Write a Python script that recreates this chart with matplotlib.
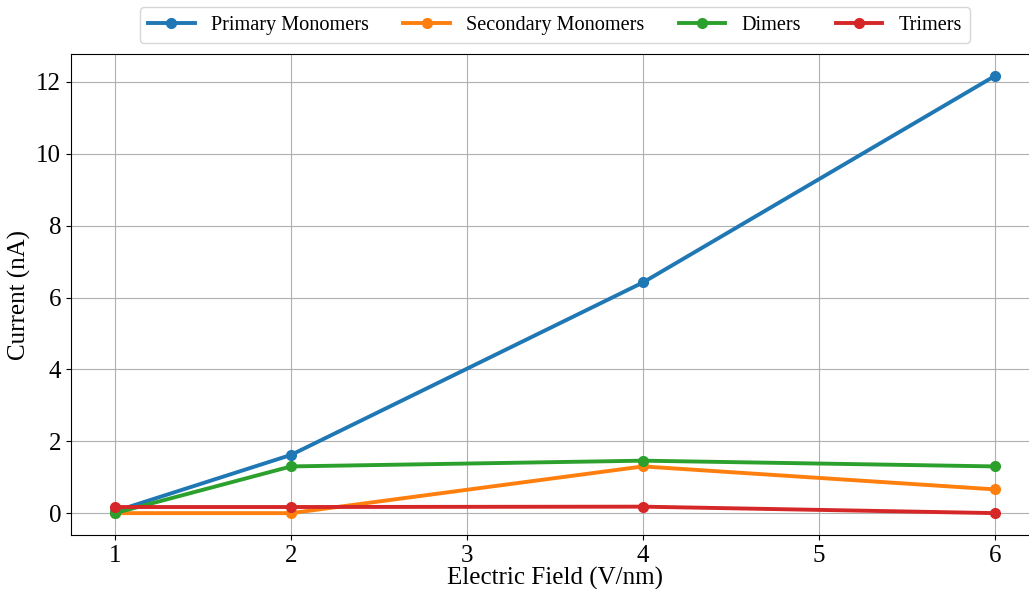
import matplotlib.pyplot as plt

plt.rcParams['font.family'] = ['Liberation Serif', 'DejaVu Serif']

# Electric field values (V/nm)
fields = [1, 2, 4, 6]

# Current (nA) per species
primary = [0.05, 1.62, 6.42, 12.17]
secondary = [0.0, 0.0, 1.30, 0.66]
dimers = [0.0, 1.30, 1.46, 1.30]
trimers = [0.17, 0.17, 0.18, 0.0]

series = [
    ("Primary Monomers", primary, "#1f77b4"),
    ("Secondary Monomers", secondary, "#ff7f0e"),
    ("Dimers", dimers, "#2ca02c"),
    ("Trimers", trimers, "#d62728"),
]

fig = plt.figure(figsize=(10.29, 5.89), dpi=100)
ax = fig.add_axes([0.069, 0.0917, 0.9407, 0.8166])

for label, vals, col in series:
    ax.plot(fields, vals, marker='o', markersize=7, linewidth=2.8, color=col, label=label)

ax.set_xlabel("Electric Field (V/nm)", fontsize=18, labelpad=0)
ax.set_ylabel("Current (nA)", fontsize=18)
ax.tick_params(axis='both', labelsize=18)
ax.set_xticks([1, 2, 3, 4, 5, 6])
ax.set_yticks([0, 2, 4, 6, 8, 10, 12])
ax.grid(True, color='#b0b0b0', linewidth=0.8)

ax.legend(loc='upper center', bbox_to_anchor=(0.5, 1.118), ncol=4, fontsize=14.6,
          frameon=True, columnspacing=1.7, handlelength=2.3)

fig.savefig("out.png", dpi=100)
